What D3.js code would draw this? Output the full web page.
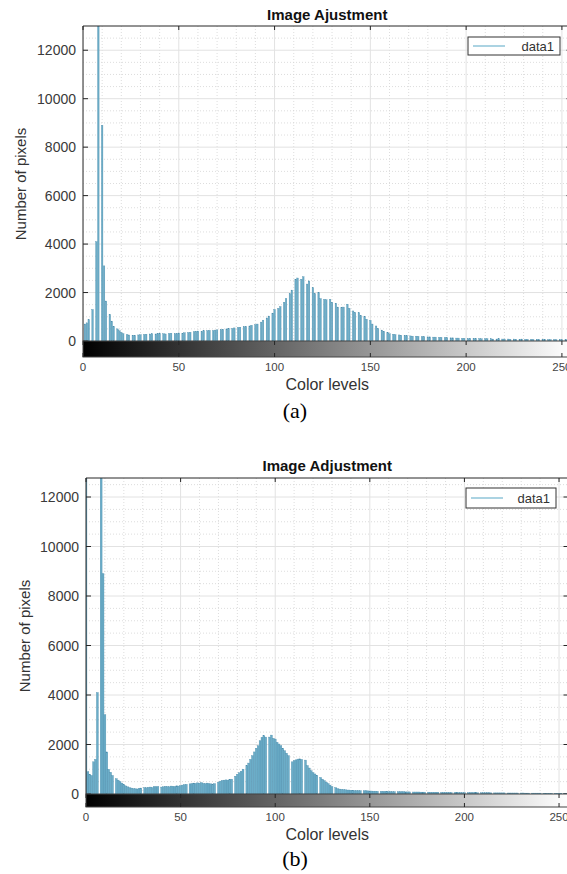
<!DOCTYPE html>
<html>
<head>
<meta charset="utf-8">
<script src="https://cdn.jsdelivr.net/npm/d3@7"></script>
<style>
  body { margin: 0; background: #fff; }
  text { font-family: "Liberation Sans", Arial, sans-serif; }
</style>
</head>
<body>
<script>
// histogram counts per grey level (0..255)
const countsA = [
  0, 700, 750, 880, 0, 1300, 0, 4100, 14000, 0, 8900, 3100, 1650, 0, 1100, 820,
  600, 0, 500, 420, 350, 300, 0, 260, 250, 0, 240, 230, 0, 250, 260, 0,
  270, 280, 0, 290, 300, 0, 290, 300, 310, 0, 300, 290, 0, 310, 320, 0,
  300, 310, 330, 0, 320, 340, 0, 350, 360, 0, 380, 400, 410, 0, 390, 420,
  0, 430, 440, 0, 430, 450, 460, 0, 470, 480, 0, 500, 510, 0, 520, 540,
  0, 560, 570, 0, 590, 600, 0, 620, 650, 0, 680, 700, 0, 780, 860, 0,
  950, 1030, 0, 1150, 1300, 0, 1350, 1420, 0, 1600, 1750, 0, 1950, 2100, 0, 2550,
  2600, 0, 2550, 2650, 0, 2350, 2480, 0, 2200, 1950, 0, 2000, 1750, 0, 1720, 1700,
  0, 1720, 1600, 0, 1560, 1400, 0, 1380, 1400, 0, 1520, 1350, 0, 1240, 1180, 0,
  1170, 1050, 0, 1000, 900, 0, 850, 700, 0, 620, 520, 0, 450, 400, 0, 350,
  300, 0, 280, 260, 0, 250, 240, 0, 230, 220, 0, 210, 200, 0, 200, 190,
  0, 180, 180, 0, 170, 170, 0, 160, 160, 0, 150, 150, 0, 140, 140, 0,
  130, 130, 0, 120, 120, 0, 110, 110, 0, 100, 110, 0, 100, 100, 0, 100,
  90, 0, 90, 90, 0, 90, 80, 0, 80, 90, 0, 80, 80, 0, 80, 70,
  0, 80, 70, 0, 70, 80, 0, 70, 70, 0, 70, 60, 0, 70, 60, 0,
  60, 70, 0, 60, 60, 0, 60, 50, 0, 60, 50, 0, 50, 60, 0, 80
];

const countsB = [
  20000, 900, 800, 750, 1300, 1400, 4100, 0, 20000, 8900, 3200, 1700, 1000, 880, 750, 0,
  620, 560, 500, 440, 380, 330, 290, 260, 240, 220, 210, 200, 230, 240, 0, 260,
  250, 270, 280, 260, 300, 290, 300, 0, 280, 290, 310, 300, 290, 320, 310, 300,
  330, 320, 340, 360, 380, 390, 0, 410, 420, 440, 430, 450, 440, 460, 430, 420,
  440, 420, 410, 400, 420, 0, 480, 520, 550, 560, 570, 560, 580, 600, 0, 720,
  800, 860, 920, 1000, 0, 1150, 1250, 1400, 1550, 1700, 1850, 1950, 2150, 2290, 2360, 2300,
  0, 2300, 2380, 2250, 2220, 2090, 2020, 1950, 1850, 1750, 1650, 1550, 0, 1300, 1350, 1380,
  1410, 1420, 1400, 0, 1370, 1150, 1050, 940, 860, 810, 760, 0, 670, 600, 540, 480,
  420, 360, 300, 0, 260, 220, 200, 190, 180, 170, 160, 160, 150, 150, 140, 140,
  140, 135, 0, 130, 130, 125, 120, 120, 115, 115, 110, 0, 110, 105, 105, 100,
  100, 100, 95, 95, 0, 95, 90, 90, 90, 85, 85, 85, 0, 80, 80, 80,
  80, 75, 75, 75, 0, 75, 70, 70, 70, 70, 70, 0, 65, 65, 65, 65,
  65, 60, 0, 60, 60, 60, 60, 55, 55, 0, 55, 55, 55, 55, 50, 50,
  0, 50, 50, 50, 50, 50, 45, 0, 45, 45, 45, 45, 45, 45, 0, 40,
  40, 40, 40, 40, 40, 0, 40, 40, 35, 35, 35, 0, 35, 35, 35, 35,
  35, 0, 30, 30, 30, 30, 30, 0, 30, 30, 30, 30, 0, 30, 30, 60
];

const xTicks = [0, 50, 100, 150, 200, 250];
const yTicks = [0, 2000, 4000, 6000, 8000, 10000, 12000];
const titles = ['Image Ajustment', 'Image Adjustment'];
const captions = ['(a)', '(b)'];
const legendLabel = 'data1';

const BAR_FILL = '#6badc8';
const BAR_EDGE = '#4a8cab';
const AXIS_COLOR = '#262626';

const svg = d3.select('body')
  .append('svg')
    .attr('width', 567)
    .attr('height', 874);

const defs = svg.append('defs');
const grad = defs.append('linearGradient')
    .attr('id', 'greyramp')
    .attr('x1', '0%').attr('x2', '100%')
    .attr('y1', '0%').attr('y2', '0%');
grad.append('stop').attr('offset', '0%').attr('stop-color', '#000');
grad.append('stop').attr('offset', '100%').attr('stop-color', '#fff');

const panels = [
  {counts: countsA, left: 83, right: 571.5, top: 26, bottom: 341, ymax: 13000,
   barFrac: 0.8, cbH: 16, titleY: 20, xlabY: 390, tickY: 371, ylabX: 26, ylabY: 184,
   legend: {x: 468, y: 37, w: 92, h: 18}, capY: 418},
  {counts: countsB, left: 86, right: 568.5, top: 478, bottom: 794, ymax: 12768,
   barFrac: 1.0, cbH: 13, titleY: 471, xlabY: 840, tickY: 821, ylabX: 30, ylabY: 636,
   legend: {x: 466, y: 488, w: 90, h: 20}, capY: 866}
];

panels.forEach((p, k) => {
  const x = d3.scaleLinear().domain([0, 255]).range([p.left, p.right]);
  const y = d3.scaleLinear().domain([0, p.ymax]).range([p.bottom, p.top]);
  const g = svg.append('g');

  defs.append('clipPath').attr('id', 'clip' + k)
    .append('rect')
      .attr('x', p.left).attr('y', p.top)
      .attr('width', p.right - p.left).attr('height', p.bottom - p.top);

  const plot = g.append('g').attr('clip-path', `url(#clip${k})`);

  // minor grid (dotted)
  const minorX = d3.range(0, 256, 10).filter(v => v % 50 !== 0);
  const minorY = d3.range(500, p.ymax, 500).filter(v => v % 2000 !== 0);
  plot.selectAll('.mgx').data(minorX).join('line')
    .attr('x1', d => x(d)).attr('x2', d => x(d))
    .attr('y1', p.top).attr('y2', p.bottom)
    .attr('stroke', '#d4d4d4').attr('stroke-width', 0.8).attr('stroke-dasharray', '1,2');
  plot.selectAll('.mgy').data(minorY).join('line')
    .attr('x1', p.left).attr('x2', p.right)
    .attr('y1', d => y(d)).attr('y2', d => y(d))
    .attr('stroke', '#d4d4d4').attr('stroke-width', 0.8).attr('stroke-dasharray', '1,2');

  // major grid
  plot.selectAll('.gx').data(xTicks).join('line')
    .attr('x1', d => x(d)).attr('x2', d => x(d))
    .attr('y1', p.top).attr('y2', p.bottom)
    .attr('stroke', '#e2e2e2').attr('stroke-width', 1);
  plot.selectAll('.gy').data(yTicks).join('line')
    .attr('x1', p.left).attr('x2', p.right)
    .attr('y1', d => y(d)).attr('y2', d => y(d))
    .attr('stroke', '#e2e2e2').attr('stroke-width', 1);

  // bars
  const step = x(1) - x(0);
  const bw = step * p.barFrac;
  plot.selectAll('.bar').data(p.counts.map((c, i) => ({i, c})).filter(d => d.c > 0))
    .join('rect')
      .attr('x', d => x(d.i) - bw / 2)
      .attr('width', bw)
      .attr('y', d => y(d.c))
      .attr('height', d => p.bottom - y(d.c))
      .attr('fill', BAR_FILL)
      .attr('stroke', BAR_EDGE)
      .attr('stroke-width', 0.35);

  // axes box + inward ticks
  g.append('line').attr('x1', p.left).attr('x2', p.right).attr('y1', p.top).attr('y2', p.top)
    .attr('stroke', AXIS_COLOR).attr('stroke-width', 1);
  g.append('line').attr('x1', p.left).attr('x2', p.left).attr('y1', p.top).attr('y2', p.bottom)
    .attr('stroke', AXIS_COLOR).attr('stroke-width', 1);
  g.append('line').attr('x1', p.right).attr('x2', p.right).attr('y1', p.top).attr('y2', p.bottom)
    .attr('stroke', AXIS_COLOR).attr('stroke-width', 1);
  g.selectAll('.ty').data(yTicks).join('line')
    .attr('x1', p.left).attr('x2', p.left + 5)
    .attr('y1', d => y(d)).attr('y2', d => y(d))
    .attr('stroke', AXIS_COLOR);
  g.selectAll('.tyr').data(yTicks).join('line')
    .attr('x1', p.right - 5).attr('x2', p.right)
    .attr('y1', d => y(d)).attr('y2', d => y(d))
    .attr('stroke', AXIS_COLOR);
  g.selectAll('.tx').data(xTicks).join('line')
    .attr('x1', d => x(d)).attr('x2', d => x(d))
    .attr('y1', p.top).attr('y2', p.top + 4)
    .attr('stroke', AXIS_COLOR);

  // y tick labels
  g.selectAll('.yl').data(yTicks).join('text')
    .attr('x', p.left - 7).attr('y', d => y(d))
    .attr('dy', '0.36em')
    .attr('text-anchor', 'end')
    .attr('font-size', 14)
    .attr('fill', '#3a3a3a')
    .text(d => d);

  // grey-level colour strip under the axes
  const cb = g.append('g');
  cb.append('rect')
    .attr('x', p.left).attr('y', p.bottom)
    .attr('width', p.right - p.left).attr('height', p.cbH)
    .attr('fill', 'url(#greyramp)')
    .attr('stroke', '#444').attr('stroke-width', 1);
  cb.selectAll('.ct').data(xTicks).join('line')
    .attr('x1', d => x(d)).attr('x2', d => x(d))
    .attr('y1', p.bottom).attr('y2', p.bottom + 4)
    .attr('stroke', AXIS_COLOR);
  cb.selectAll('.cb2').data(xTicks).join('line')
    .attr('x1', d => x(d)).attr('x2', d => x(d))
    .attr('y1', p.bottom + p.cbH - 4).attr('y2', p.bottom + p.cbH)
    .attr('stroke', AXIS_COLOR);

  // x tick labels
  g.selectAll('.xl').data(xTicks).join('text')
    .attr('x', d => x(d)).attr('y', p.tickY)
    .attr('text-anchor', 'middle')
    .attr('font-size', 11.5)
    .attr('fill', '#444')
    .text(d => d);

  // title and axis labels
  const cx = (p.left + p.right) / 2;
  g.append('text')
    .attr('x', cx).attr('y', p.titleY)
    .attr('text-anchor', 'middle')
    .attr('font-size', 15).attr('font-weight', 'bold')
    .attr('fill', '#111')
    .text(titles[k]);
  g.append('text')
    .attr('x', cx).attr('y', p.xlabY)
    .attr('text-anchor', 'middle')
    .attr('font-size', 16)
    .attr('fill', '#333')
    .text('Color levels');
  g.append('text')
    .attr('transform', `translate(${p.ylabX},${p.ylabY}) rotate(-90)`)
    .attr('text-anchor', 'middle')
    .attr('font-size', 15)
    .attr('fill', '#333')
    .text('Number of pixels');

  // legend
  const lg = g.append('g');
  lg.append('rect')
    .attr('x', p.legend.x).attr('y', p.legend.y)
    .attr('width', p.legend.w).attr('height', p.legend.h)
    .attr('fill', '#fff').attr('stroke', '#333').attr('stroke-width', 1);
  lg.append('line')
    .attr('x1', p.legend.x + 5).attr('x2', p.legend.x + 37)
    .attr('y1', p.legend.y + p.legend.h / 2).attr('y2', p.legend.y + p.legend.h / 2)
    .attr('stroke', '#7dbcd2').attr('stroke-width', 1.3);
  lg.append('text')
    .attr('x', p.legend.x + p.legend.w - 6).attr('y', p.legend.y + p.legend.h / 2)
    .attr('dy', '0.36em')
    .attr('text-anchor', 'end')
    .attr('font-size', 13)
    .attr('fill', '#333')
    .text(legendLabel);

  // caption
  svg.append('text')
    .attr('x', 295).attr('y', p.capY)
    .attr('text-anchor', 'middle')
    .style('font-family', '"Liberation Serif", "Times New Roman", serif')
    .attr('font-size', 22)
    .attr('fill', '#000')
    .text(captions[k]);
});
</script>
</body>
</html>
